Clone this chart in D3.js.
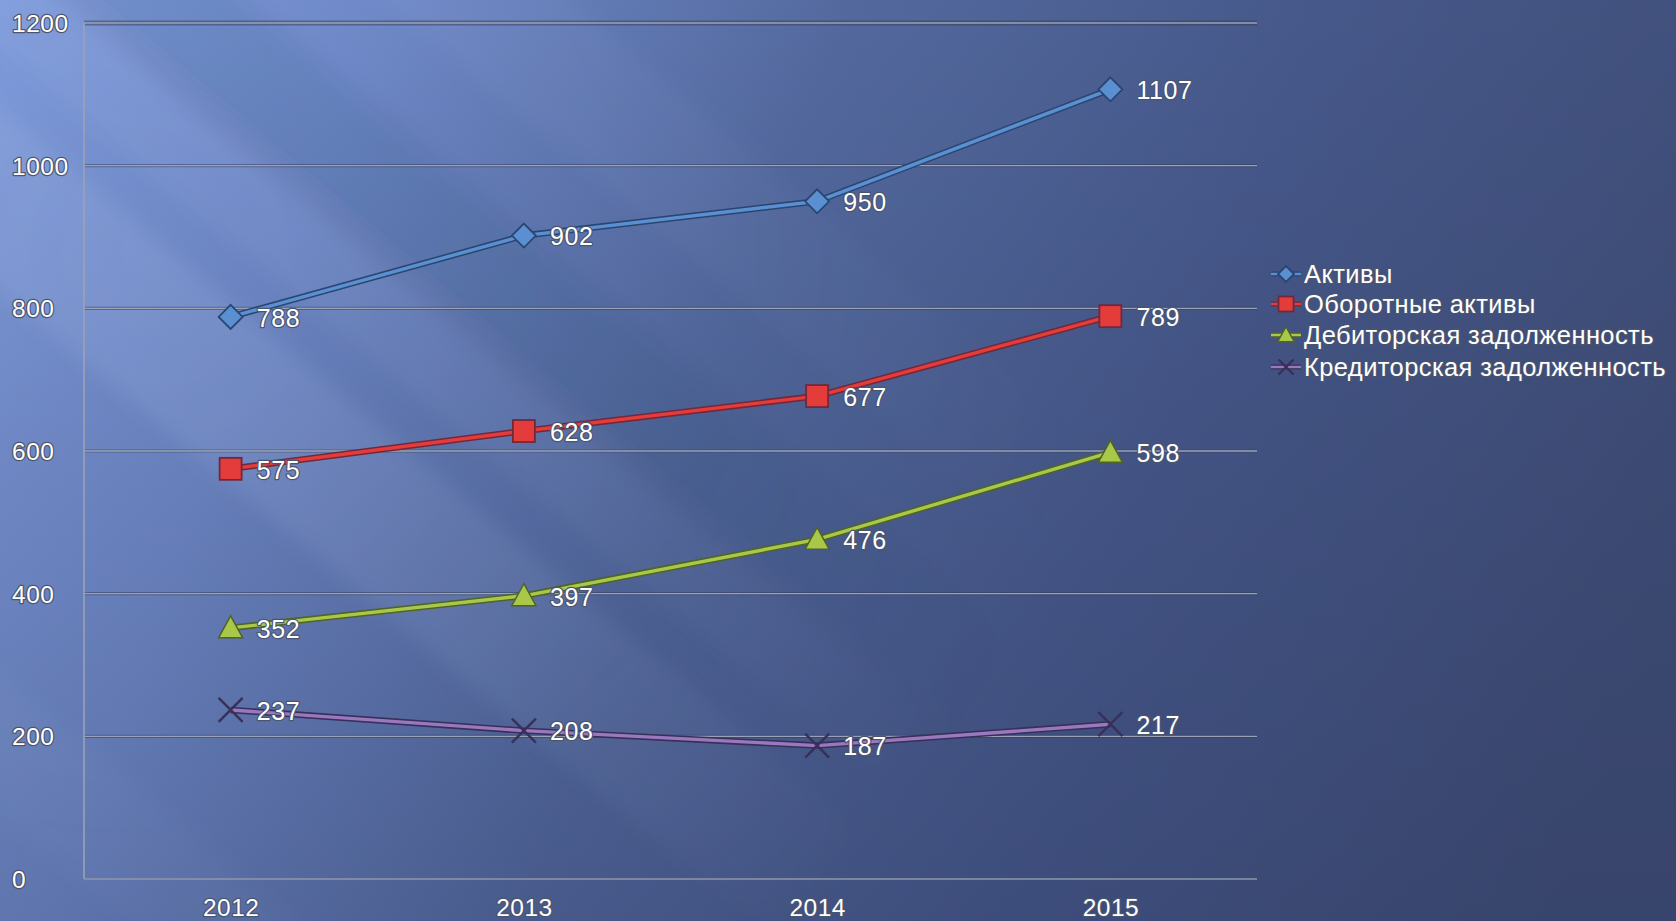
<!DOCTYPE html>
<html><head><meta charset="utf-8">
<script src="https://cdn.jsdelivr.net/npm/d3@7"></script>
<style>html,body{margin:0;padding:0;overflow:hidden;background:#4a5a88}</style>
</head><body>
<script>
const years = ["2012","2013","2014","2015"];
const seriesNames = ["Активы","Оборотные активы","Дебиторская задолженность","Кредиторская задолженность"];
const aktivy = [788, 902, 950, 1107];
const oborotnye = [575, 628, 677, 789];
const debitorskaya = [352, 397, 476, 598];
const kreditorskaya = [237, 208, 187, 217];
const yTicks = [0, 200, 400, 600, 800, 1000, 1200];

(function(){
const W = 1676, H = 921;
const svg = d3.select("body").append("svg").attr("width", W).attr("height", H);
const defs = svg.append("defs");

// background
const bg = defs.append("linearGradient").attr("id","bg")
  .attr("gradientUnits","userSpaceOnUse").attr("x1",0).attr("y1",0).attr("x2",1676).attr("y2",600);
bg.append("stop").attr("offset","0").attr("stop-color","#7f9bdb");
bg.append("stop").attr("offset","0.2").attr("stop-color","#6f89c8");
bg.append("stop").attr("offset","0.45").attr("stop-color","#53699e");
bg.append("stop").attr("offset","0.7").attr("stop-color","#46588a");
bg.append("stop").attr("offset","1").attr("stop-color","#3f4d76");
svg.append("rect").attr("width",W).attr("height",H).attr("fill","url(#bg)");
const vshade = defs.append("linearGradient").attr("id","vs").attr("x1","0").attr("y1","0").attr("x2","0").attr("y2","1");
vshade.append("stop").attr("offset","0").attr("stop-color","#1a2040").attr("stop-opacity",0);
vshade.append("stop").attr("offset","1").attr("stop-color","#1a2040").attr("stop-opacity",0.2);
svg.append("rect").attr("width",W).attr("height",H).attr("fill","url(#vs)");

// mask fading streaks away from top-left
const mg = defs.append("radialGradient").attr("id","mg").attr("gradientUnits","userSpaceOnUse")
  .attr("cx",150).attr("cy",250).attr("r",950);
mg.append("stop").attr("offset","0").attr("stop-color","#fff");
mg.append("stop").attr("offset","0.55").attr("stop-color","#aaa");
mg.append("stop").attr("offset","1").attr("stop-color","#000");
defs.append("mask").attr("id","mk").append("rect").attr("width",W).attr("height",H).attr("fill","url(#mg)");

// diagonal light streaks
defs.append("filter").attr("id","blur").attr("x","-50%").attr("y","-50%").attr("width","200%").attr("height","200%")
  .append("feGaussianBlur").attr("stdDeviation",10);
const streakWrap = svg.append("g").attr("mask","url(#mk)");
const streaks = streakWrap.append("g").attr("filter","url(#blur)");
const streakDefs = [
  {cx: 120, cy: 300, w: 140, op: 0.13, c: "#c8d8ff"},
  {cx: 300, cy: 240, w: 90, op: 0.08, c: "#c8d8ff"},
  {cx: 620, cy: 120, w: 120, op: 0.07, c: "#c8d8ff"},
  {cx: 460, cy: 260, w: 120, op: 0.10, c: "#1a2550"},
  {cx: 20, cy: 760, w: 110, op: 0.06, c: "#c8d8ff"}
];
streakDefs.forEach(s => {
  streaks.append("rect")
    .attr("x", s.cx - s.w/2).attr("y", s.cy - 2000).attr("width", s.w).attr("height", 4000)
    .attr("fill", s.c).attr("opacity", s.op)
    .attr("transform", `rotate(-50 ${s.cx} ${s.cy})`);
});

const pl = 84, pr = 1257, pt = 23, pb = 879;
const x = d3.scalePoint().domain(years).range([pl, pr]).padding(0.5);
const y = d3.scaleLinear().domain([0, 1200]).range([pb, pt]);

// gridlines
const grid = svg.append("g");
yTicks.filter(t => t > 0).forEach(t => {
  grid.append("line").attr("x1", pl).attr("x2", pr).attr("y1", y(t)).attr("y2", y(t))
    .attr("stroke", "#323c58").attr("stroke-width", t === 1200 ? 5 : 3.2).attr("opacity", 0.5);
  grid.append("line").attr("x1", pl).attr("x2", pr).attr("y1", y(t)).attr("y2", y(t))
    .attr("stroke", "#9aa3b6").attr("stroke-width", 1.3);
});
grid.append("line").attr("x1", pl).attr("x2", pl).attr("y1", pt).attr("y2", pb)
  .attr("stroke", "#9aa3b6").attr("stroke-width", 1.6);
grid.append("line").attr("x1", pl).attr("x2", pr).attr("y1", pb).attr("y2", pb)
  .attr("stroke", "#8e97ab").attr("stroke-width", 1.6);

const textStyle = sel => sel.attr("font-family", "'Liberation Sans', Arial, sans-serif")
  .attr("fill", "#ffffff").attr("stroke", "#4a5570").attr("stroke-width", 2.4)
  .attr("paint-order", "stroke").attr("stroke-linejoin","round");

const yAxis = d3.axisLeft(y).tickValues(yTicks).tickSize(0).tickPadding(0).tickFormat(d3.format("d"));
const ya = svg.append("g").call(yAxis);
ya.select(".domain").remove();
ya.selectAll("text").call(textStyle).attr("font-size", 24.5).attr("letter-spacing", 0.5)
  .attr("dy","0.35em").attr("text-anchor","start").attr("x", 12);

const xAxis = d3.axisBottom(x).tickSize(0).tickPadding(0);
const xa = svg.append("g").attr("transform", `translate(0,${pb + 20})`).call(xAxis);
xa.select(".domain").remove();
xa.selectAll("text").call(textStyle).attr("font-size", 24.5).attr("letter-spacing", 0.5).attr("dy","0.7em");

const series = [
  {name: seriesNames[0], values: aktivy, color: "#5a90d2", dark: "#2a4670", marker: "diamond"},
  {name: seriesNames[1], values: oborotnye, color: "#e43b3b", dark: "#73283a", marker: "square"},
  {name: seriesNames[2], values: debitorskaya, color: "#a9c84a", dark: "#4e6428", marker: "triangle"},
  {name: seriesNames[3], values: kreditorskaya, color: "#9a78c0", dark: "#383058", marker: "x"}
];

const line = d3.line().x((d,i) => x(years[i])).y(d => y(d));

function drawMarker(g, type, cx, cy, s, color, dark) {
  if (type === "diamond") {
    g.append("path").attr("d", `M${cx},${cy-s*0.5}L${cx+s*0.5},${cy}L${cx},${cy+s*0.5}L${cx-s*0.5},${cy}Z`)
      .attr("fill", color).attr("stroke", dark).attr("stroke-width", 1.8);
  } else if (type === "square") {
    g.append("rect").attr("x", cx - s/2).attr("y", cy - s/2).attr("width", s).attr("height", s)
      .attr("fill", color).attr("stroke", dark).attr("stroke-width", 1.8);
  } else if (type === "triangle") {
    g.append("path").attr("d", `M${cx},${cy-s*0.55}L${cx+s*0.55},${cy+s*0.45}L${cx-s*0.55},${cy+s*0.45}Z`)
      .attr("fill", color).attr("stroke", dark).attr("stroke-width", 1.5);
  } else {
    const r = s*0.5;
    g.append("path").attr("d", `M${cx-r},${cy-r}L${cx+r},${cy+r}M${cx+r},${cy-r}L${cx-r},${cy+r}`)
      .attr("stroke", dark).attr("stroke-width", 2.4).attr("fill","none");
  }
}

const sizes = {diamond: 24, square: 22, triangle: 22, x: 24};

series.forEach(s => {
  const g = svg.append("g");
  g.append("path").datum(s.values).attr("d", line).attr("fill","none")
    .attr("stroke", s.dark).attr("stroke-width", 6.5).attr("stroke-linejoin","round");
  g.append("path").datum(s.values).attr("d", line).attr("fill","none")
    .attr("stroke", s.color).attr("stroke-width", 3.4).attr("stroke-linejoin","round");
  s.values.forEach((v,i) => {
    drawMarker(g, s.marker, x(years[i]), y(v), sizes[s.marker], s.color, s.dark);
  });
  s.values.forEach((v,i) => {
    g.append("text").attr("x", x(years[i]) + 26).attr("y", y(v) + 1).attr("dy","0.35em")
      .attr("font-size", 25).attr("letter-spacing", 0.6).text(v).call(textStyle);
  });
});

const legY = [274, 304, 335, 367];
const lg = svg.append("g");
series.forEach((s,i) => {
  const cy = legY[i];
  lg.append("line").attr("x1", 1271).attr("x2", 1301).attr("y1", cy).attr("y2", cy)
    .attr("stroke", s.dark).attr("stroke-width", 5);
  lg.append("line").attr("x1", 1271).attr("x2", 1301).attr("y1", cy).attr("y2", cy)
    .attr("stroke", s.color).attr("stroke-width", 2.4);
  drawMarker(lg, s.marker, 1286, cy, s.marker === "diamond" ? 16 : 15, s.color, s.dark);
  lg.append("text").attr("x", 1304).attr("y", cy).attr("dy","0.35em")
    .attr("font-size", 25.5).attr("letter-spacing", 0.4).text(s.name).call(textStyle);
});
})();
</script>
</body></html>
